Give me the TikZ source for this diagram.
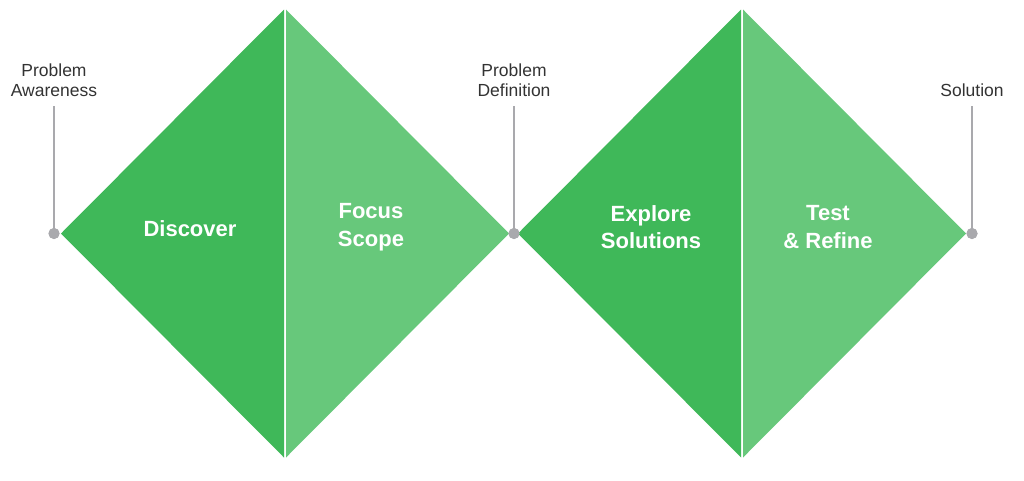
\documentclass[tikz,border=0pt]{standalone}
\usepackage{fontspec}
\setmainfont{Liberation Sans}
\begin{document}
\begin{tikzpicture}[x=1pt,y=-1pt,
  darkg/.style={fill=gdark,draw=none},
  lightg/.style={fill=glight,draw=none},
  phase/.style={text=white,font=\fontsize{22}{27.5}\selectfont\bfseries,align=center,inner sep=0pt},
  milestone/.style={text=labelgray,font=\fontsize{17.5}{20}\selectfont,align=center,inner sep=0pt,anchor=south},
  dot/.style={circle,fill=linegray,minimum size=11pt,inner sep=0pt},
  stem/.style={draw=linegray,line width=1.4pt}
]
\definecolor{gdark}{HTML}{3FB859}
\definecolor{glight}{HTML}{67C87B}
\definecolor{linegray}{HTML}{A9A9AD}
\definecolor{labelgray}{HTML}{333333}
\useasboundingbox (0,0) rectangle (1024,480);
\fill[white] (0,0) rectangle (1024,480);
% first diamond
\fill[darkg] (61,233.5) -- (284,9.5) -- (284,457.5) -- cycle;
\fill[lightg] (286,9.5) -- (509,233.5) -- (286,457.5) -- cycle;
% second diamond
\fill[darkg] (518,233.5) -- (741,9.5) -- (741,457.5) -- cycle;
\fill[lightg] (743,9.5) -- (966,233.5) -- (743,457.5) -- cycle;
% phase labels
\node[phase] (discover) at (190,229) {Discover};
\node[phase] (focus) at (371,227) {Focus\\Scope};
\node[phase] (explore) at (651,227) {Explore\\Solutions};
\node[phase] (test) at (828,227) {Test\\\& Refine};
% milestones
\coordinate (t1) at (54,106);
\coordinate (t2) at (514,106);
\coordinate (t3) at (972,106);
\node[dot] (d1) at (54,233.5) {};
\node[dot] (d2) at (514,233.5) {};
\node[dot] (d3) at (972,233.5) {};
\draw[stem] (d1.center) -- (t1);
\draw[stem] (d2.center) -- (t2);
\draw[stem] (d3.center) -- (t3);
\node[dot] at (d1) {};
\node[dot] at (d2) {};
\node[dot] at (d3) {};
\node[milestone] (l1) at (54,96.5) {Problem\\Awareness};
\node[milestone] (l2) at (514,96.5) {Problem\\Definition};
\node[milestone] (l3) at (972,96.5) {Solution};
\end{tikzpicture}
\end{document}
